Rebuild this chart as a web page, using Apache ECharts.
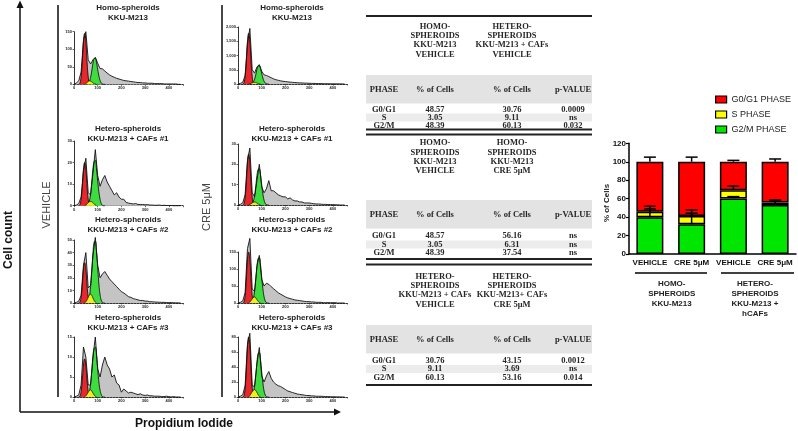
<!DOCTYPE html>
<html>
<head>
<meta charset="utf-8">
<script src="https://cdn.jsdelivr.net/npm/echarts@6/dist/echarts.min.js"></script>
<style>
html, body { margin: 0; padding: 0; background: #fff; }
#main { width: 798px; height: 431px; }
</style>
</head>
<body>
<div id="main"></div>
<script>
// ---- flow histograms: x bins and peak fits ----
const histX = [0,10,20,30,40,50,60,70,80,90,100,110,120,130,140,150,160,170,180,190,200,210,220,230,240,250,260,270,280,290,300,310,320,330,340,350,360,370,380,390,400,410,420,430,440,450];
const redX = [20,25,30,35,40,45,50,55,60,65,70];
const yellowX = [45,50,55,60,65,70,75,80,85,90,95];
const greenX = [50,55,60,65,70,75,80,85,90,95,100,105,110,115,120,125,130];

// vehicle column
const grayHomoVeh = [0,4,10,35,125,150,70,58,70,77,60,45,44,38,32,27,23,20,17,15,13,11,10,9,8,7,6,5,5,4,4,3,3,3,2,2,2,2,1,1,1,1,1,1,0,0];
const redHomoVeh = [0,3,22,65,123,145,123,65,22,3,0];
const yellowHomoVeh = [0,2,5,8,10,9,7,4,2,1,0];
const greenHomoVeh = [0,1,3,8,20,38,60,73,74,62,42,24,11,4,1,0,0];

const grayCaf1Veh = [0,0.3,1,4,16,22,6,5,15,26,14,9,12,14,11,9,7,5,6,4,3,3,1.5,1.2,1,0.8,1,0.6,0.5,0.6,0.4,0.5,0.3,0.3,0.2,0.2,0.3,0.1,0.2,0.1,0.1,0.1,0,0,0,0];
const redCaf1Veh = [0,0.5,3,9,17,20,17,9,3,0.5,0];
const yellowCaf1Veh = [0,0.3,0.8,1.4,1.8,2,1.8,1.4,0.8,0.3,0];
const greenCaf1Veh = [0,0.2,0.7,2.2,5.5,11,17,20.5,21,17,11.5,6.5,3,1,0.2,0,0];

const grayCaf2Veh = [0,0.5,1.5,6,30,40,12,14,38,52,30,20,23,25,22,19,17,15,13,11,9,8,6.5,5,4.5,3.5,3,2.5,2,2,1.5,1.5,1,1,0.8,0.7,0.6,0.5,0.5,0.4,0.3,0.3,0.2,0.1,0.1,0];
const redCaf2Veh = [0,0.6,5,14,27,32,27,14,5,0.6,0];
const yellowCaf2Veh = [0,1,2.5,4.5,6.5,7,6,4,2,0.8,0];
const greenCaf2Veh = [0,0.5,1.6,5,13,25,39,48.5,49,41,28,15,6.5,2.2,0.5,0,0];

const grayCaf3Veh = [0,0.2,0.5,3,12.5,10,3,3,10,15,7,5,8,10,8,7,5,5.5,3.5,3,1.2,2,1.5,1,1.2,1,0.8,0.6,0.8,0.5,0.4,0.5,0.3,0.3,0.2,0.2,0.2,0.1,0.1,0.2,0.1,0,0.1,0,0,0];
const redCaf3Veh = [0,0.2,1.4,4.3,8,9.5,8,4.3,1.4,0.2,0];
const yellowCaf3Veh = [0,0.3,0.7,1.2,1.6,1.8,1.5,1,0.5,0.2,0];
const greenCaf3Veh = [0,0.1,0.4,1.3,3.3,6.4,10,12.2,12.4,10.4,7,3.8,1.7,0.6,0.1,0,0];

// CRE 5uM column
const grayHomoCre = [0,20,60,300,1400,1950,500,380,600,680,450,320,300,260,220,180,150,130,110,95,85,75,65,58,52,46,40,36,32,28,25,22,20,18,16,14,12,10,9,8,7,6,5,4,3,2];
const redHomoCre = [0,35,270,800,1510,1780,1510,800,270,35,0];
const yellowHomoCre = [0,10,25,40,55,60,50,35,20,8,0];
const greenHomoCre = [0,12,35,80,170,320,510,630,640,540,370,210,95,35,10,0,0];

const grayCaf1Cre = [0,0.3,1,5,22,28,6,4,12,20,9,6,8,12,7,7,6,5,4.5,4,4,3,3.5,2.5,2,2,1.5,1.5,1,1,1,0.8,0.6,0.5,0.5,0.4,0.3,0.3,0.2,0.2,0.2,0.1,0.1,0,0,0];
const redCaf1Cre = [0,0.5,3.8,11,21,25,21,11,3.8,0.5,0];
const yellowCaf1Cre = [0,0.3,0.6,1,1.3,1.5,1.3,0.9,0.5,0.2,0];
const greenCaf1Cre = [0,0.2,0.6,1.9,4.7,9.2,14.5,17.5,17.8,15,10,5.4,2.4,0.8,0.2,0,0];

const grayCaf2Cre = [0,2,6,30,160,190,40,35,110,140,70,50,58,55,48,42,36,30,26,22,18,15,13,11,9,8,7,6,5,4,4,3,3,2,2,2,1,1,1,1,1,1,0,0,0,0];
const redCaf2Cre = [0,3,22,68,128,150,128,68,22,3,0];
const yellowCaf2Cre = [0,3,7,12,16,18,15,10,5,2,0];
const greenCaf2Cre = [0,1.5,4.5,14,36,68,106,131,133,112,76,42,18,6,1.5,0,0];

const grayCaf3Cre = [0,1,3,15,70,85,15,14,45,66,28,20,28,34,25,20,17,15,14,12,10,8,7,6,5,4,3.5,3,2.5,2,2,1.5,1.5,1,1,1,0.8,0.6,0.5,0.4,0.3,0.3,0.2,0.1,0,0];
const redCaf3Cre = [0,1.6,12,36,68,80,68,36,12,1.6,0];
const yellowCaf3Cre = [0,2,4.5,7,9,10,8.5,6,3,1,0];
const greenCaf3Cre = [0,0.6,2,6,15,29,46,58,59,50,34,19,8,2.7,0.6,0,0];

const panelTitles = [
  ['Homo-spheroids', 'KKU-M213'],
  ['Hetero-spheroids', 'KKU-M213 + CAFs #1'],
  ['Hetero-spheroids', 'KKU-M213 + CAFs #2'],
  ['Hetero-spheroids', 'KKU-M213 + CAFs #3'],
  ['Homo-spheroids', 'KKU-M213'],
  ['Hetero-spheroids', 'KKU-M213 + CAFs #1'],
  ['Hetero-spheroids', 'KKU-M213 + CAFs #2'],
  ['Hetero-spheroids', 'KKU-M213 + CAFs #3']
];
const yMaxes = [150, 30, 50, 15, 2000, 30, 150, 80];
const ySteps = [50, 10, 10, 5, 500, 10, 50, 20];

// ---- tables ----
const phaseRows = ['G0/G1', 'S', 'G2/M'];
const t1Heads = [['HOMO-', 'SPHEROIDS', 'KKU-M213', 'VEHICLE'], ['HETERO-', 'SPHEROIDS', 'KKU-M213 + CAFs', 'VEHICLE']];
const t1ColA = ['48.57', '3.05', '48.39'];
const t1ColB = ['30.76', '9.11', '60.13'];
const t1P = ['0.0009', 'ns', '0.032'];
const t2Heads = [['HOMO-', 'SPHEROIDS', 'KKU-M213', 'VEHICLE'], ['HOMO-', 'SPHEROIDS', 'KKU-M213', 'CRE 5μM']];
const t2ColA = ['48.57', '3.05', '48.39'];
const t2ColB = ['56.16', '6.31', '37.54'];
const t2P = ['ns', 'ns', 'ns'];
const t3Heads = [['HETERO-', 'SPHEROIDS', 'KKU-M213 + CAFs', 'VEHICLE'], ['HETERO-', 'SPHEROIDS', 'KKU-M213+ CAFs', 'CRE 5μM']];
const t3ColA = ['30.76', '9.11', '60.13'];
const t3ColB = ['43.15', '3.69', '53.16'];
const t3P = ['0.0012', 'ns', '0.014'];
const tableHeader = ['PHASE', '% of Cells', '% of Cells', 'p-VALUE'];

// ---- stacked bar chart ----
const barCats = ['VEHICLE', 'CRE 5μM', 'VEHICLE', 'CRE 5μM'];
const g2mPct = [39.8, 32.2, 60.2, 53.1];
const sPct = [6.1, 9.0, 9.0, 2.6];
const g0g1Pct = [54.1, 58.8, 30.8, 44.3];
const g2mErr = [9, 12, 2, 4];
const sErr = [6, 6.5, 4.5, 2.8];
const g0g1Err = [5, 5, 1.5, 3];
const groupLabels = [['HOMO-', 'SPHEROIDS', 'KKU-M213'], ['HETERO-', 'SPHEROIDS', 'KKU-M213 +', 'hCAFs']];

const panelData = [
  [grayHomoVeh, redHomoVeh, yellowHomoVeh, greenHomoVeh],
  [grayCaf1Veh, redCaf1Veh, yellowCaf1Veh, greenCaf1Veh],
  [grayCaf2Veh, redCaf2Veh, yellowCaf2Veh, greenCaf2Veh],
  [grayCaf3Veh, redCaf3Veh, yellowCaf3Veh, greenCaf3Veh],
  [grayHomoCre, redHomoCre, yellowHomoCre, greenHomoCre],
  [grayCaf1Cre, redCaf1Cre, yellowCaf1Cre, greenCaf1Cre],
  [grayCaf2Cre, redCaf2Cre, yellowCaf2Cre, greenCaf2Cre],
  [grayCaf3Cre, redCaf3Cre, yellowCaf3Cre, greenCaf3Cre]
];

// where each little histogram sits
const layout = [
  {left: 74, top: 31.7, height: 52.6, tx: 128, ty: 8},
  {left: 74, top: 141, height: 64.7, tx: 128, ty: 129},
  {left: 74, top: 240, height: 63, tx: 128, ty: 220},
  {left: 74, top: 337, height: 60, tx: 128, ty: 318},
  {left: 238, top: 27, height: 57, tx: 292, ty: 8},
  {left: 238, top: 144, height: 61, tx: 292, ty: 129},
  {left: 238, top: 252, height: 51, tx: 292, ty: 220},
  {left: 238, top: 337, height: 60, tx: 292, ty: 318}
];

function pairs(xs, ys) {
  return xs.map(function (x, i) { return [x, ys[i]]; });
}

function txt(s, x, y, font, opts) {
  opts = opts || {};
  return {
    type: 'text', x: x, y: y, rotation: opts.rotation || 0, silent: true, z: 100,
    style: {text: s, font: font, fill: opts.fill || '#222', align: opts.align || 'center', verticalAlign: 'middle'}
  };
}
function hline(x1, x2, y, w, c) {
  return {type: 'line', silent: true, z: 90, shape: {x1: x1, y1: y, x2: x2, y2: y}, style: {stroke: c || '#222', lineWidth: w}};
}
function vline(x, y1, y2, w, c) {
  return {type: 'line', silent: true, z: 90, shape: {x1: x, y1: y1, x2: x, y2: y2}, style: {stroke: c || '#222', lineWidth: w}};
}
function box(x, y, w, h, c) {
  return {type: 'rect', silent: true, z: 80, shape: {x: x, y: y, width: w, height: h}, style: {fill: c}};
}

const grids = [], xAxes = [], yAxes = [], series = [], graphics = [];
const titleFont = 'bold 8px "Liberation Sans"';

panelData.forEach(function (d, i) {
  const L = layout[i];
  grids.push({left: L.left, top: L.top, width: 109, height: L.height});
  xAxes.push({
    type: 'value', gridIndex: i, min: 0, max: 460, interval: 100,
    axisLine: {lineStyle: {color: '#000', width: 0.8, type: [2, 1]}},
    axisTick: {length: 1.5, lineStyle: {color: '#000', width: 0.6}},
    axisLabel: {fontSize: 4, color: '#222', margin: 2, fontWeight: 'bold', formatter: function (v) { return v % 100 === 0 ? String(v) : ''; }},
    splitLine: {show: false}
  });
  yAxes.push({
    type: 'value', gridIndex: i, min: 0, max: yMaxes[i], interval: ySteps[i],
    axisLine: {show: true, lineStyle: {color: '#000', width: 0.8}},
    axisTick: {show: true, length: 1.5, lineStyle: {color: '#000', width: 0.6}},
    axisLabel: {fontSize: 4, color: '#222', margin: 2, fontWeight: 'bold'},
    splitLine: {show: false}
  });
  series.push({
    type: 'line', xAxisIndex: i, yAxisIndex: i, data: pairs(histX, d[0]), symbol: 'none', clip: false, silent: true,
    lineStyle: {width: 0}, areaStyle: {color: '#c4c4c4', opacity: 1}, z: 1
  });
  series.push({
    type: 'line', xAxisIndex: i, yAxisIndex: i, data: pairs(redX, d[1]), symbol: 'none', smooth: true, clip: false, silent: true,
    lineStyle: {color: '#000', width: 0.8}, areaStyle: {color: '#e8262b', opacity: 1}, z: 2
  });
  series.push({
    type: 'line', xAxisIndex: i, yAxisIndex: i, data: pairs(greenX, d[3]), symbol: 'none', smooth: true, clip: false, silent: true,
    lineStyle: {color: '#000', width: 0.8}, areaStyle: {color: '#3fdc3f', opacity: 1}, z: 3
  });
  series.push({
    type: 'line', xAxisIndex: i, yAxisIndex: i, data: pairs(yellowX, d[2]), symbol: 'none', smooth: true, clip: false, silent: true,
    lineStyle: {color: '#000', width: 0.7}, areaStyle: {color: '#f2ee1a', opacity: 1}, z: 4
  });
  series.push({
    type: 'line', xAxisIndex: i, yAxisIndex: i, data: pairs(histX, d[0]), symbol: 'none', clip: false, silent: true,
    lineStyle: {color: '#111', width: 0.9}, z: 5
  });
  graphics.push(txt(panelTitles[i][0], L.tx, L.ty, titleFont));
  graphics.push(txt(panelTitles[i][1], L.tx, L.ty + 10, titleFont));
});

// bar grid
const B = panelData.length;
grids.push({left: 629, top: 143.3, width: 167, height: 110.7});
xAxes.push({
  type: 'category', gridIndex: B, data: barCats,
  axisLine: {lineStyle: {color: '#000', width: 1.5}}, axisTick: {show: false},
  axisLabel: {interval: 0, fontSize: 8, fontWeight: 600, color: '#111', margin: 5, fontFamily: 'Liberation Sans'}
});
yAxes.push({
  type: 'value', gridIndex: B, min: 0, max: 120, interval: 20,
  axisLine: {show: true, lineStyle: {color: '#000', width: 1.5}},
  axisTick: {show: true, length: 3, lineStyle: {color: '#000', width: 1.2}},
  axisLabel: {fontSize: 8, fontWeight: 'bold', color: '#111', margin: 3, fontFamily: 'Liberation Sans'},
  splitLine: {show: false}
});
const barStyle = function (c) { return {color: c, borderColor: '#000', borderWidth: 1.5}; };
series.push({name: 'G2/M PHASE', type: 'bar', stack: 'cc', xAxisIndex: B, yAxisIndex: B, barWidth: 27, data: g2mPct, itemStyle: barStyle('#00e600'), z: 3});
series.push({name: 'S PHASE', type: 'bar', stack: 'cc', xAxisIndex: B, yAxisIndex: B, barWidth: 27, data: sPct, itemStyle: barStyle('#ffff00'), z: 3});
series.push({name: 'G0/G1 PHASE', type: 'bar', stack: 'cc', xAxisIndex: B, yAxisIndex: B, barWidth: 27, data: g0g1Pct, itemStyle: barStyle('#ff0000'), z: 3});

const errData = [];
barCats.forEach(function (c, i) {
  const gTop = g2mPct[i], sTop = gTop + sPct[i], rTop = sTop + g0g1Pct[i];
  errData.push([i, gTop, gTop + g2mErr[i]], [i, sTop, sTop + sErr[i]], [i, rTop, rTop + g0g1Err[i]]);
});
series.push({
  type: 'custom', xAxisIndex: B, yAxisIndex: B, data: errData, encode: {x: 0, y: [1, 2]}, z: 10, silent: true,
  renderItem: function (params, api) {
    const p0 = api.coord([api.value(0), api.value(1)]);
    const p1 = api.coord([api.value(0), api.value(2)]);
    const st = {stroke: '#000', lineWidth: 1.5};
    return {type: 'group', children: [
      {type: 'line', shape: {x1: p0[0], y1: p0[1], x2: p1[0], y2: p1[1]}, style: st},
      {type: 'line', shape: {x1: p1[0] - 6, y1: p1[1], x2: p1[0] + 6, y2: p1[1]}, style: st}
    ]};
  }
});

// group brackets under the bar chart
graphics.push(hline(635, 707, 273, 1.5, '#000'));
graphics.push(hline(721, 794, 273, 1.5, '#000'));
groupLabels.forEach(function (g, gi) {
  g.forEach(function (s, k) {
    graphics.push(txt(s, gi === 0 ? 671.7 : 755, 283.3 + k * 10, 'bold 8px "Liberation Sans"'));
  });
});
graphics.push(txt('% of Cells', 607, 203, 'bold 8px "Liberation Sans"', {rotation: Math.PI / 2}));

// tables
const colX = [384, 435, 512, 573];
const tabFont = 'bold 8.5px "Liberation Serif"';
const tabInk = '#262626';
function table(t) {
  const xL = 366, xR = 592;
  graphics.push(hline(xL, xR, t.top, 2, '#222'));
  t.heads.forEach(function (lines, c) {
    lines.forEach(function (s, k) { graphics.push(txt(s, colX[c + 1], t.head + k * 9.3, tabFont, {fill: tabInk})); });
  });
  graphics.push(box(xL, t.band, xR - xL, 28.5, '#e3e3e3'));
  tableHeader.forEach(function (s, c) { graphics.push(txt(s, colX[c], t.band + 15, tabFont, {fill: tabInk})); });
  graphics.push(box(xL, t.rows[1] - 4, xR - xL, 8, '#ececec'));
  phaseRows.forEach(function (s, r) {
    graphics.push(txt(s, colX[0], t.rows[r], tabFont, {fill: tabInk}));
    graphics.push(txt(t.a[r], colX[1], t.rows[r], tabFont, {fill: tabInk}));
    graphics.push(txt(t.b[r], colX[2], t.rows[r], tabFont, {fill: tabInk}));
    graphics.push(txt(t.p[r], colX[3], t.rows[r], tabFont, {fill: tabInk}));
  });
  graphics.push(hline(xL, xR, t.bottom, 2, '#222'));
}
table({top: 16, head: 26.5, band: 75, rows: [109.5, 117.5, 125.5], bottom: 129.5, heads: t1Heads, a: t1ColA, b: t1ColB, p: t1P});
table({top: 134.5, head: 143, band: 200, rows: [236, 244.5, 253], bottom: 259, heads: t2Heads, a: t2ColA, b: t2ColB, p: t2P});
table({top: 264.5, head: 276.5, band: 325, rows: [360.5, 369, 377.5], bottom: 385, heads: t3Heads, a: t3ColA, b: t3ColB, p: t3P});

// frame of the histogram block
graphics.push(vline(20, 412, 6, 1.5, '#111'));
graphics.push({type: 'polygon', silent: true, z: 90, shape: {points: [[16.5, 8], [23.5, 8], [20, 0.5]]}, style: {fill: '#111'}});
graphics.push(hline(20, 336, 412, 1.5, '#111'));
graphics.push({type: 'polygon', silent: true, z: 90, shape: {points: [[334, 408.5], [334, 415.5], [341, 412]]}, style: {fill: '#111'}});
graphics.push(vline(58, 5, 397, 1.8, '#333'));
graphics.push(vline(222, 5, 397, 1.8, '#333'));
graphics.push(txt('Cell count', 9, 240, 'bold 12px "Liberation Sans"', {rotation: Math.PI / 2, fill: '#111'}));
graphics.push(txt('Propidium Iodide', 184, 424, 'bold 12px "Liberation Sans"', {fill: '#111'}));
graphics.push(txt('VEHICLE', 47, 205, '11px "Liberation Sans"', {rotation: Math.PI / 2, fill: '#444'}));
graphics.push(txt('CRE 5μM', 207, 207, '11px "Liberation Sans"', {rotation: Math.PI / 2, fill: '#444'}));

const chart = echarts.init(document.getElementById('main'));
chart.setOption({
  animation: false,
  backgroundColor: '#fff',
  legend: {
    data: ['G0/G1 PHASE', 'S PHASE', 'G2/M PHASE'],
    orient: 'vertical', left: 710, top: 90,
    itemWidth: 11, itemHeight: 7, itemGap: 6, icon: 'rect',
    itemStyle: {borderColor: '#000', borderWidth: 1.2},
    textStyle: {fontSize: 9, color: '#222', fontFamily: 'Liberation Sans'},
    selectedMode: false
  },
  grid: grids,
  xAxis: xAxes,
  yAxis: yAxes,
  series: series,
  graphic: graphics
});
</script>
</body>
</html>
